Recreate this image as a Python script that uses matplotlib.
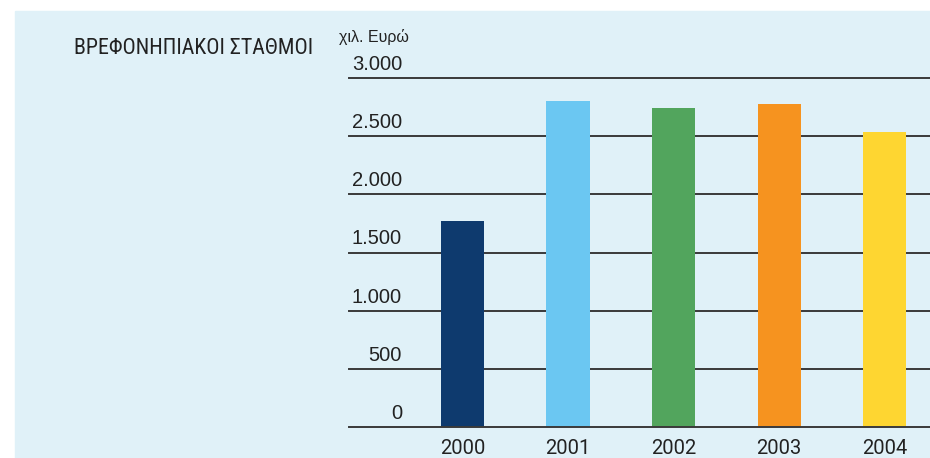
import matplotlib.pyplot as plt
from matplotlib.patches import Rectangle

years = ['2000', '2001', '2002', '2003', '2004']
values = [1775, 2800, 2740, 2775, 2535]
colors = ['#0E3A6E', '#6BC7F2', '#52A55D', '#F6931F', '#FED631']
yticks = [0, 500, 1000, 1500, 2000, 2500, 3000]
ytick_labels = ['0', '500', '1.000', '1.500', '2.000', '2.500', '3.000']
title = 'ΒΡΕΦΟΝΗΠΙΑΚΟΙ ΣΤΑΘΜΟΙ'
unit = 'χιλ. Ευρώ'

BG = '#E0F1F8'
W, H = 930, 458

fig = plt.figure(figsize=(W / 100, H / 100), dpi=100)
fig.patch.set_facecolor('white')
fig.patches.append(Rectangle((15 / W, 0), 1 - 15 / W, 1 - 11 / H,
                             transform=fig.transFigure, color=BG, zorder=-10))

ax = fig.add_axes([349 / W, 31 / H, 581 / W, 349 / H])
ax.set_facecolor('none')
ax.set_xlim(-1.076, 4.431)
ax.set_ylim(0, 3000)
for s in ax.spines.values():
    s.set_visible(False)
ax.set_xticks([])
ax.set_yticks([])

# grid lines, the zero line sits on top of the bars
for v in yticks:
    ax.axhline(v, color='#3a3a3a', lw=1.4, zorder=1 if v else 3, clip_on=False)

x = list(range(len(years)))
ax.bar(x, values, width=0.408, color=colors, zorder=2)

font = ['Liberation Sans', 'DejaVu Sans']
for v, lab in zip(yticks, ytick_labels):
    ax.annotate(lab, xy=(0.0912, v), xycoords=ax.get_yaxis_transform(),
                xytext=(0, 5.8), textcoords='offset points',
                ha='right', va='baseline', fontsize=14.5, color='#222222',
                family=font)
for xi, lab in zip(x, years):
    ax.annotate(lab, xy=(xi, 0), xycoords='data', xytext=(0, -9),
                textcoords='offset points', ha='center', va='top',
                fontsize=14.5, color='#222222', family=['Roboto', 'DejaVu Sans'])

fig.text(74 / W, 1 - 54 / H, title, ha='left', va='baseline', fontsize=15.8,
         color='#222222', family=['Roboto Condensed', 'DejaVu Sans'])
fig.text(339 / W, 1 - 42 / H, unit, ha='left', va='baseline', fontsize=11.5,
         color='#222222', family=font)

fig.savefig('out.png', dpi=100, facecolor=fig.get_facecolor())
